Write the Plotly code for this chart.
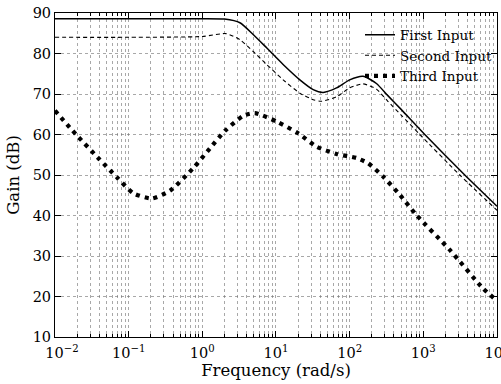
import plotly.graph_objects as go

# ---- data (frequency in rad/s, gain in dB) ----
freq_first = [0.01, 0.1, 1.0, 2.0, 3.24, 4.9, 7.46, 12.5, 21.1, 32, 43.7, 66.4, 100, 152, 231, 330, 500, 1047, 3656, 10000]
gain_first = [88.6, 88.6, 88.6, 88.5, 87.6, 84.7, 81.4, 77.3, 73.5, 71.1, 70.4, 71.5, 73.5, 74.4, 72.6, 69.6, 66.2, 60.0, 50.0, 42.3]

freq_second = [0.01, 0.1, 1.0, 2.1, 3.24, 4.9, 7.46, 12.5, 21.1, 32, 41, 66.4, 100, 152, 231, 330, 500, 897, 3126, 10000]
gain_second = [84.0, 84.0, 84.2, 84.9, 83.4, 80.5, 77.3, 73.5, 70.2, 68.6, 68.2, 69.3, 71.5, 72.5, 71.2, 68.2, 64.8, 60.0, 50.0, 41.3]

freq_third = [0.01, 0.0193, 0.04, 0.0687, 0.1156, 0.205, 0.363, 0.753, 1.27, 2.03, 3.59, 5.17, 10.2, 20, 35.6, 66.4, 124, 178, 285, 480, 807, 2291, 6457, 9800]
gain_third = [65.9, 60.0, 53.9, 49.5, 45.5, 44.2, 46.1, 51.7, 56.6, 60.9, 64.6, 65.3, 63.2, 60.3, 57.0, 55.2, 54.2, 52.9, 49.6, 45.1, 40.1, 31.5, 22.0, 19.1]

series_names = ["First Input", "Second Input", "Third Input"]

x_tick_vals = [1e-2, 1e-1, 1e0, 1e1, 1e2, 1e3, 1e4]
x_tick_text = ["&nbsp;&nbsp;&nbsp;10<sup>−2</sup>", "10<sup>−1</sup>", "10<sup>0</sup>", "10<sup>1</sup>",
               "10<sup>2</sup>", "10<sup>3</sup>", "10<sup>4</sup>"]
x_minor_vals = [k * 10.0 ** d for d in range(-2, 4) for k in range(2, 10)]
y_tick_vals = [10, 20, 30, 40, 50, 60, 70, 80, 90]

FONT = "DejaVu Serif"

fig = go.Figure()
fig.add_trace(go.Scatter(x=freq_first, y=gain_first, name=series_names[0], mode="lines",
                         line=dict(color="black", width=1.5, shape="spline", smoothing=0.6)))
fig.add_trace(go.Scatter(x=freq_second, y=gain_second, name=series_names[1], mode="lines",
                         line=dict(color="black", width=1.1, dash="4px,3px", shape="spline", smoothing=0.6)))
fig.add_trace(go.Scatter(x=freq_third, y=gain_third, name=series_names[2], mode="lines",
                         line=dict(color="black", width=4.2, dash="4px,5px", shape="spline", smoothing=0.6)))

grid_col = "rgba(110,110,110,0.6)"
fig.update_layout(
    width=501, height=384,
    margin=dict(l=55, r=4, t=13, b=47),
    paper_bgcolor="white", plot_bgcolor="white",
    font=dict(family=FONT, size=14, color="black"),
    showlegend=True,
    legend=dict(x=1.0, xanchor="right", y=0.98, yanchor="top",
                bgcolor="rgba(255,255,255,0)", borderwidth=0,
                font=dict(family=FONT, size=13.5, color="black"),
                itemwidth=30, tracegroupgap=0),
    xaxis=dict(type="log", range=[-2, 4.0005], automargin=False,
               tickvals=x_tick_vals, ticktext=x_tick_text,
               ticks="inside", ticklen=6, tickcolor="black",
               ticklabeloverflow="allow", ticklabelstandoff=3,
               showline=True, linecolor="black", linewidth=1, mirror="ticks",
               showgrid=True, gridcolor=grid_col, griddash="dot", gridwidth=1,
               minor=dict(tickvals=x_minor_vals, ticks="inside", ticklen=3, tickcolor="black",
                          showgrid=True, gridcolor=grid_col, griddash="dot", gridwidth=1),
               title=dict(text="Frequency (rad/s)", font=dict(family=FONT, size=16.5), standoff=4),
               tickfont=dict(family=FONT, size=14.5), zeroline=False),
    yaxis=dict(range=[10, 90], tickvals=y_tick_vals, automargin=False,
               ticks="inside", ticklen=6, tickcolor="black",
               showline=True, linecolor="black", linewidth=1, mirror="ticks",
               showgrid=True, gridcolor=grid_col, griddash="dot", gridwidth=1,
               title=dict(text="Gain (dB)", font=dict(family=FONT, size=16.5), standoff=8),
               tickfont=dict(family=FONT, size=14.5), zeroline=False),
)

fig.write_html("out.html")
